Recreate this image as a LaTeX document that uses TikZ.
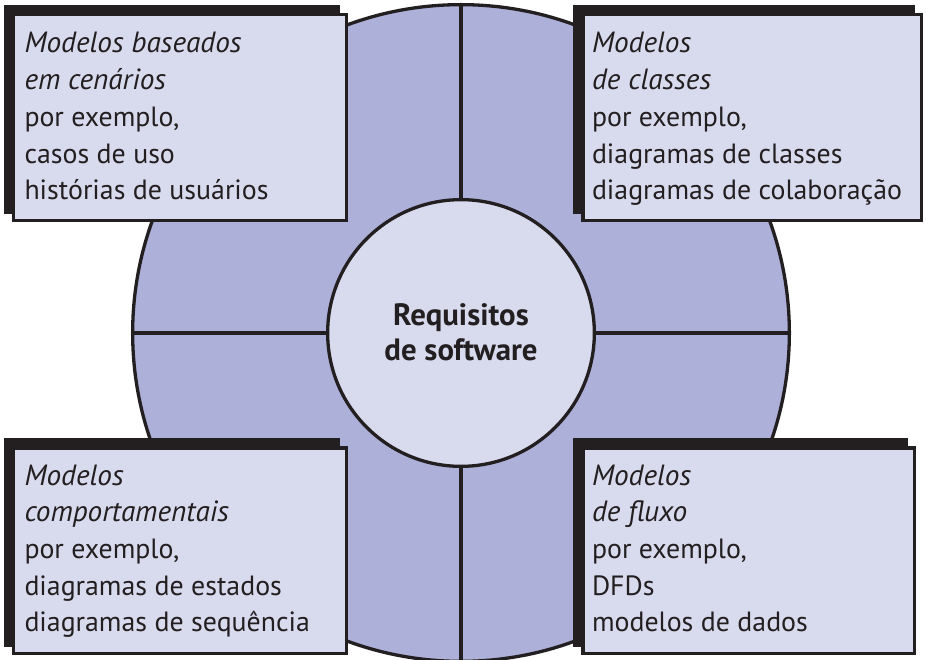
\documentclass[tikz,border=0pt]{standalone}
\usepackage{fontspec}
\setmainfont{PT Sans}
\definecolor{ink}{HTML}{231F20}
\definecolor{disk}{HTML}{ADB0D8}
\definecolor{boxfill}{HTML}{D8DBEE}
\newlength\refw
\newcommand\myital{\fontsize{\fsi bp}{36.7bp}\selectfont\itshape}
\begin{document}
\settowidth\refw{\fontsize{10bp}{12bp}\selectfont diagramas de colaboração}%
\pgfmathsetmacro\fs{10*311.16/\refw}%
\settowidth\refw{\fontsize{10bp}{12bp}\selectfont\itshape Modelos baseados}%
\pgfmathsetmacro\fsi{10*217.8/\refw}%
\settowidth\refw{\fontsize{10bp}{12bp}\selectfont\bfseries de software}%
\pgfmathsetmacro\fsb{10*153.8/\refw}%
\begin{tikzpicture}[x=1bp,y=-1bp,
  shadowbox/.style={fill=ink, draw=none, inner sep=0, outer sep=0},
  frontbox/.style={fill=boxfill, draw=ink, line width=3.5bp, inner sep=0, outer sep=0},
  divider/.style={draw=ink, line width=3.6bp},
  txt/.style={text=ink, anchor=base west, inner sep=0, outer sep=0,
    font=\fontsize{\fs bp}{36.7bp}\selectfont}]
\useasboundingbox (0,0) rectangle (926,660);
% big disk and centre circle
\node[circle, draw=ink, line width=3.3bp, fill=disk, minimum size=656.7bp, inner sep=0] (C) at (461,333) {};
\node[circle, draw=ink, line width=3.3bp, fill=boxfill, minimum size=266.7bp, inner sep=0] (R) at (461,333) {};
\draw[divider] (C.north) -- (R.north);
\draw[divider] (R.south) -- (C.south);
\draw[divider] (C.west) -- (R.west);
\draw[divider] (R.east) -- (C.east);
\node[text=ink, anchor=base, inner sep=0, font=\fontsize{\fsb bp}{35bp}\selectfont\bfseries] (rt) at (461,325)
  {\begin{tabular}[t]{@{}c@{}}Requisitos\\de software\end{tabular}};
% top-left box
\node[shadowbox, minimum width=336bp, minimum height=209bp] (s1) at (172,109.5) {};
\node[frontbox, minimum width=332.5bp, minimum height=205.5bp] (b1) at (180,117.5) {};
\node[txt] (t1) at (24.5,53) {\begin{tabular}[t]{@{}l@{}}\myital Modelos baseados\\\myital em cenários\\por exemplo,\\casos de uso\\histórias de usuários\end{tabular}};
% top-right box
\node[shadowbox, minimum width=342bp, minimum height=209bp] (s2) at (744,109.5) {};
\node[frontbox, minimum width=338.5bp, minimum height=205.5bp] (b2) at (752,117.5) {};
\node[txt] (t2) at (592,53) {\begin{tabular}[t]{@{}l@{}}\myital Modelos\\\myital de classes\\por exemplo,\\diagramas de classes\\diagramas de colaboração\end{tabular}};
% bottom-left box
\node[shadowbox, minimum width=336bp, minimum height=209bp] (s3) at (172,542.5) {};
\node[frontbox, minimum width=332.5bp, minimum height=205.5bp] (b3) at (180,550.5) {};
\node[txt] (t3) at (24.5,485) {\begin{tabular}[t]{@{}l@{}}\myital Modelos\\\myital comportamentais\\por exemplo,\\diagramas de estados\\diagramas de sequência\end{tabular}};
% bottom-right box
\node[shadowbox, minimum width=335bp, minimum height=209bp] (s4) at (740.5,542.5) {};
\node[frontbox, minimum width=331.5bp, minimum height=205.5bp] (b4) at (748.5,550.5) {};
\node[txt] (t4) at (592,485) {\begin{tabular}[t]{@{}l@{}}\myital Modelos\\\myital de fluxo\\por exemplo,\\DFDs\\modelos de dados\end{tabular}};
\end{tikzpicture}
\end{document}
